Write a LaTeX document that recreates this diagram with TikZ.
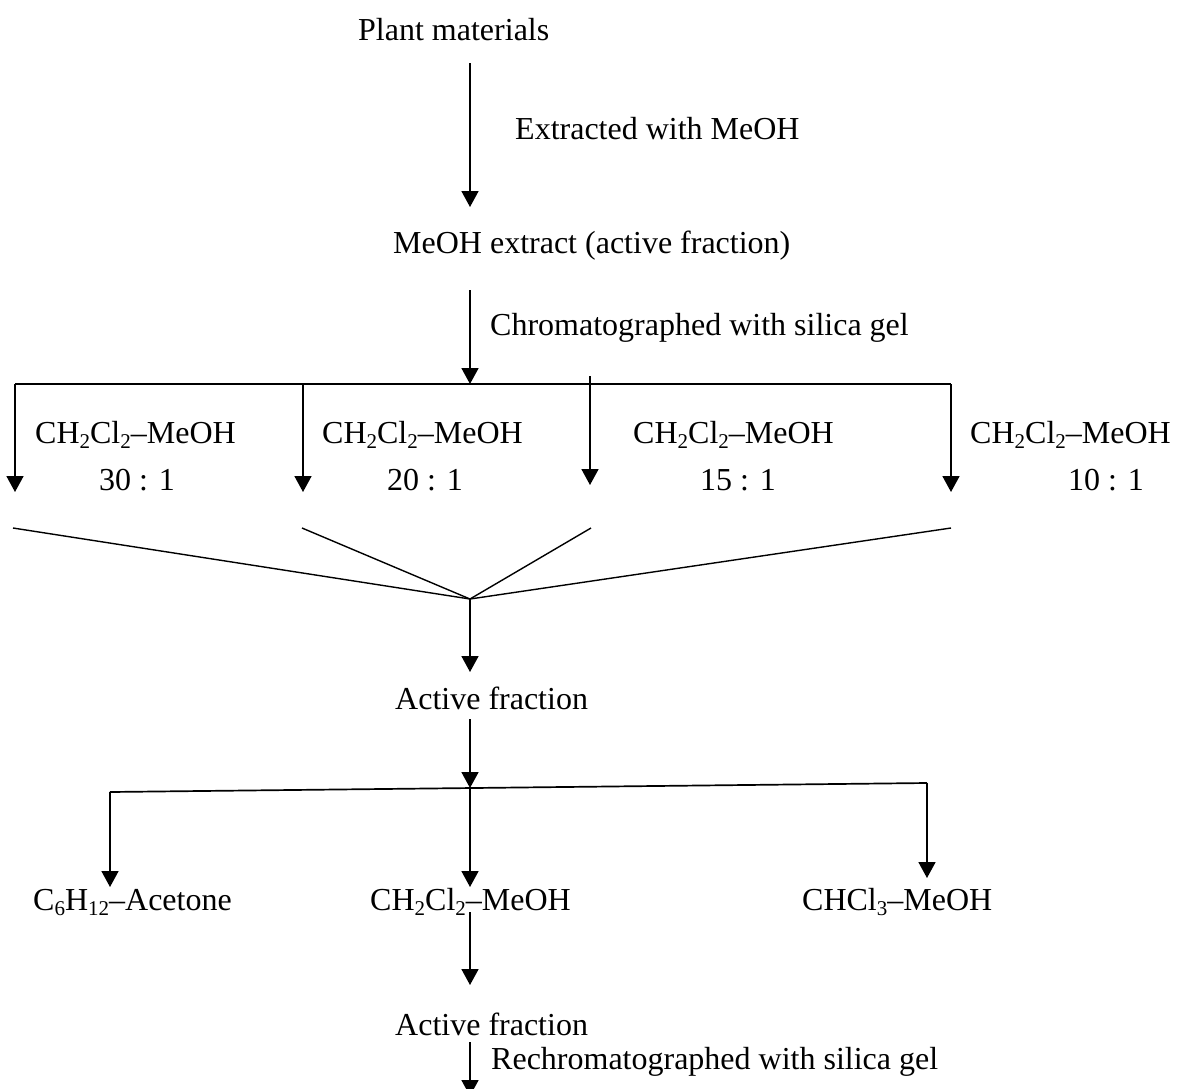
\documentclass[tikz,border=0pt]{standalone}
\usepackage{fontspec}
\setmainfont{Liberation Serif}
\usetikzlibrary{arrows.meta}
\newcommand\sbx[1]{\raisebox{-5pt}{\fontsize{21}{21}\selectfont #1}}
\begin{document}
\begin{tikzpicture}[x=1pt,y=-1pt,
  lbl/.style={anchor=base west,inner sep=0pt,font=\fontsize{32}{38}\selectfont},
  arr/.style={line width=1.7pt,-{Triangle[width=17pt,length=16pt]}},
  ln/.style={line width=1.7pt},
  fan/.style={line width=1.4pt}]
\useasboundingbox (0,0) rectangle (1179,1088);
% text
\node[lbl] (plant) at (358,40) {Plant materials};
\node[lbl] (ext) at (515,139) {Extracted with MeOH};
\node[lbl] (meoh) at (393,253) {MeOH extract (active fraction)};
\node[lbl] (chrom) at (490,335) {Chromatographed with silica gel};
\node[lbl] (l1) at (35,443) {CH\sbx{2}Cl\sbx{2}\textendash MeOH};
\node[lbl] (r1) at (99,490) {30 : 1};
\node[lbl] (l2) at (322,443) {CH\sbx{2}Cl\sbx{2}\textendash MeOH};
\node[lbl] (r2) at (387,490) {20 : 1};
\node[lbl] (l3) at (633,443) {CH\sbx{2}Cl\sbx{2}\textendash MeOH};
\node[lbl] (r3) at (700,490) {15 : 1};
\node[lbl] (l4) at (970,443) {CH\sbx{2}Cl\sbx{2}\textendash MeOH};
\node[lbl] (r4) at (1068,490) {10 : 1};
\node[lbl] (act1) at (395,709) {Active fraction};
\node[lbl] (hex) at (33,910) {C\sbx{6}H\sbx{12}\textendash Acetone};
\node[lbl] (dcm) at (370,910) {CH\sbx{2}Cl\sbx{2}\textendash MeOH};
\node[lbl] (chl) at (802,910) {CHCl\sbx{3}\textendash MeOH};
\node[lbl] (act2) at (395,1035) {Active fraction};
\node[lbl] (rechrom) at (491,1069) {Rechromatographed with silica gel};
% coordinates
\coordinate (a1s) at (470,63);
\coordinate (a1e) at (470,207);
\coordinate (a2s) at (470,290);
\coordinate (a2e) at (470,384);
\coordinate (h1) at (15,384);
\coordinate (h2) at (303,384);
\coordinate (h3) at (590,376);
\coordinate (h4) at (951,384);
\coordinate (b1) at (15,492);
\coordinate (b2) at (303,492);
\coordinate (b3) at (590,485);
\coordinate (b4) at (951,492);
\coordinate (f1) at (13,528);
\coordinate (f2) at (302,528);
\coordinate (f3) at (591,528);
\coordinate (f4) at (951,528);
\coordinate (apex) at (470,599);
\coordinate (a3e) at (470,672);
\coordinate (a4s) at (470,719);
\coordinate (a4e) at (470,788);
\coordinate (g1) at (110,792);
\coordinate (g3) at (927,783);
\coordinate (c1) at (110,887);
\coordinate (c2) at (470,887);
\coordinate (c3) at (927,878);
\coordinate (a5s) at (470,912);
\coordinate (a5e) at (470,985);
\coordinate (a6s) at (470,1042);
\coordinate (a6e) at (470,1096);
% connectors
\draw[arr] (a1s) -- (a1e);
\draw[arr] (a2s) -- (a2e);
\draw[ln] (h1) -- (h4);
\draw[arr] (h1) -- (b1);
\draw[arr] (h2) -- (b2);
\draw[arr] (h3) -- (b3);
\draw[arr] (h4) -- (b4);
\draw[fan] (f1) -- (apex);
\draw[fan] (f2) -- (apex);
\draw[fan] (f3) -- (apex);
\draw[fan] (f4) -- (apex);
\draw[arr] (apex) -- (a3e);
\draw[arr] (a4s) -- (a4e);
\draw[ln] (g1) -- (g3);
\draw[arr] (g1) -- (c1);
\draw[arr] (a4e) -- (c2);
\draw[arr] (g3) -- (c3);
\draw[arr] (a5s) -- (a5e);
\draw[arr] (a6s) -- (a6e);
\end{tikzpicture}
\end{document}
